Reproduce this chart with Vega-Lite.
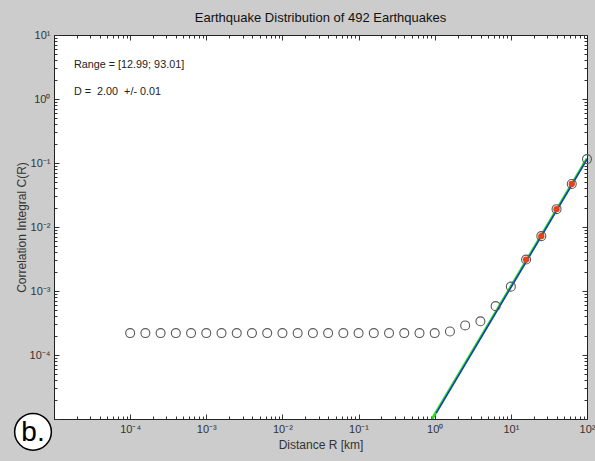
{
  "$schema": "https://vega.github.io/schema/vega-lite/v6.json",
  "width": 533,
  "height": 384,
  "autosize": {"type": "none"},
  "padding": {"left": 54, "top": 35, "right": 8, "bottom": 42},
  "background": "#cccccc",
  "config": {
    "view": {"fill": "white", "stroke": "#222", "strokeWidth": 1},
    "font": "Liberation Sans",
    "axis": {
      "labelFont": "Liberation Sans",
      "labelFontSize": 11,
      "labelColor": "#333",
      "titleFont": "Liberation Sans",
      "titleFontSize": 12,
      "titleFontWeight": "normal",
      "titleColor": "#333",
      "domainColor": "#222",
      "tickColor": "#333",
      "grid": false,
      "labelOverlap": false,
      "labelFlush": false,
      "labelBound": false
    }
  },
  "title": {
    "text": "Earthquake Distribution of 492 Earthquakes",
    "font": "Liberation Sans",
    "fontSize": 13,
    "fontWeight": "normal",
    "color": "#111",
    "offset": 4
  },
  "datasets": {
    "corr": [
      {"r": 0.0001, "c": 0.00022, "fit": false},
      {"r": 0.0001585, "c": 0.00022, "fit": false},
      {"r": 0.0002512, "c": 0.00022, "fit": false},
      {"r": 0.0003981, "c": 0.00022, "fit": false},
      {"r": 0.000631, "c": 0.00022, "fit": false},
      {"r": 0.001, "c": 0.00022, "fit": false},
      {"r": 0.001585, "c": 0.00022, "fit": false},
      {"r": 0.002512, "c": 0.00022, "fit": false},
      {"r": 0.003981, "c": 0.00022, "fit": false},
      {"r": 0.00631, "c": 0.00022, "fit": false},
      {"r": 0.01, "c": 0.00022, "fit": false},
      {"r": 0.01585, "c": 0.00022, "fit": false},
      {"r": 0.02512, "c": 0.00022, "fit": false},
      {"r": 0.03981, "c": 0.00022, "fit": false},
      {"r": 0.0631, "c": 0.00022, "fit": false},
      {"r": 0.1, "c": 0.00022, "fit": false},
      {"r": 0.1585, "c": 0.00022, "fit": false},
      {"r": 0.2512, "c": 0.00022, "fit": false},
      {"r": 0.3981, "c": 0.00022, "fit": false},
      {"r": 0.631, "c": 0.00022, "fit": false},
      {"r": 1.0, "c": 0.00022, "fit": false},
      {"r": 1.585, "c": 0.000233, "fit": false},
      {"r": 2.512, "c": 0.00029, "fit": false},
      {"r": 3.981, "c": 0.000336, "fit": false},
      {"r": 6.31, "c": 0.00058, "fit": false},
      {"r": 10.0, "c": 0.00117, "fit": false},
      {"r": 15.85, "c": 0.0031, "fit": true},
      {"r": 25.12, "c": 0.0072, "fit": true},
      {"r": 39.81, "c": 0.019, "fit": true},
      {"r": 63.1, "c": 0.047, "fit": true},
      {"r": 100.0, "c": 0.115, "fit": false}
    ],
    "green": [
      {"r": 0.9226, "c": 0.00001},
      {"r": 100.0, "c": 0.1175}
    ],
    "blue": [
      {"r": 1.05, "c": 0.0000125},
      {"r": 100.0, "c": 0.1135}
    ],
    "notes": [
      {"label": "Range = [12.99; 93.01]", "row": 1},
      {"label": "D = \u00a02.00 \u00a0+/- 0.01", "row": 2}
    ],
    "panel": [
      {"label": "b."}
    ]
  },
  "layer": [
    {
      "data": {"name": "green"},
      "mark": {"type": "line", "color": "#22dd22", "strokeWidth": 2.6, "clip": true},
      "encoding": {
        "x": {
          "field": "r", "type": "quantitative",
          "scale": {"type": "log", "domain": [0.00001, 100], "nice": false},
          "axis": {
            "orient": "bottom",
            "title": "Distance R [km]",
            "titlePadding": 3,
            "values": [0.00001,0.00002,0.00003,0.00004,0.00005,0.00006,0.00007,0.00008,0.00009,0.0001,0.0002,0.0003,0.0004,0.0005,0.0006,0.0007,0.0008,0.0009,0.001,0.002,0.003,0.004,0.005,0.006,0.007,0.008,0.009,0.01,0.02,0.03,0.04,0.05,0.06,0.07,0.08,0.09,0.1,0.2,0.3,0.4,0.5,0.6,0.7,0.8,0.9,1,2,3,4,5,6,7,8,9,10,20,30,40,50,60,70,80,90,100],
            "labelExpr": "abs(log(datum.value)/LN10 - round(log(datum.value)/LN10)) < 0.001 && round(log(datum.value)/LN10) > -5 ? ['10⁻⁵','10⁻⁴','10⁻³','10⁻²','10⁻¹','10⁰','10¹','10²'][round(log(datum.value)/LN10)+5] : ''",
            "tickSize": {"condition": {"test": "abs(log(datum.value)/LN10 - round(log(datum.value)/LN10)) < 0.001", "value": -5}, "value": -3},
            "labelPadding": 9
          }
        },
        "y": {
          "field": "c", "type": "quantitative",
          "scale": {"type": "log", "domain": [0.00001, 10], "nice": false},
          "axis": {
            "orient": "left",
            "title": "Correlation Integral C(R)",
            "titlePadding": 1,
            "values": [0.00001,0.00002,0.00003,0.00004,0.00005,0.00006,0.00007,0.00008,0.00009,0.0001,0.0002,0.0003,0.0004,0.0005,0.0006,0.0007,0.0008,0.0009,0.001,0.002,0.003,0.004,0.005,0.006,0.007,0.008,0.009,0.01,0.02,0.03,0.04,0.05,0.06,0.07,0.08,0.09,0.1,0.2,0.3,0.4,0.5,0.6,0.7,0.8,0.9,1,2,3,4,5,6,7,8,9,10],
            "labelExpr": "abs(log(datum.value)/LN10 - round(log(datum.value)/LN10)) < 0.001 && round(log(datum.value)/LN10) > -5 ? ['10⁻⁵','10⁻⁴','10⁻³','10⁻²','10⁻¹','10⁰','10¹','10²'][round(log(datum.value)/LN10)+5] : ''",
            "tickSize": {"condition": {"test": "abs(log(datum.value)/LN10 - round(log(datum.value)/LN10)) < 0.001", "value": -5}, "value": -3},
            "labelPadding": 9
          }
        }
      }
    },
    {
      "data": {"name": "blue"},
      "mark": {"type": "line", "color": "#1a2fd0", "strokeWidth": 1.4, "clip": true},
      "encoding": {
        "x": {
          "field": "r", "type": "quantitative",
          "scale": {"type": "log", "domain": [0.00001, 100], "nice": false},
          "axis": {
            "orient": "top",
            "title": null,
            "labels": false,
            "values": [0.00001,0.00002,0.00003,0.00004,0.00005,0.00006,0.00007,0.00008,0.00009,0.0001,0.0002,0.0003,0.0004,0.0005,0.0006,0.0007,0.0008,0.0009,0.001,0.002,0.003,0.004,0.005,0.006,0.007,0.008,0.009,0.01,0.02,0.03,0.04,0.05,0.06,0.07,0.08,0.09,0.1,0.2,0.3,0.4,0.5,0.6,0.7,0.8,0.9,1,2,3,4,5,6,7,8,9,10,20,30,40,50,60,70,80,90,100],
            "tickSize": {"condition": {"test": "abs(log(datum.value)/LN10 - round(log(datum.value)/LN10)) < 0.001", "value": -5}, "value": -3}
          }
        },
        "y": {
          "field": "c", "type": "quantitative",
          "scale": {"type": "log", "domain": [0.00001, 10], "nice": false},
          "axis": {
            "orient": "right",
            "title": null,
            "labels": false,
            "values": [0.00001,0.00002,0.00003,0.00004,0.00005,0.00006,0.00007,0.00008,0.00009,0.0001,0.0002,0.0003,0.0004,0.0005,0.0006,0.0007,0.0008,0.0009,0.001,0.002,0.003,0.004,0.005,0.006,0.007,0.008,0.009,0.01,0.02,0.03,0.04,0.05,0.06,0.07,0.08,0.09,0.1,0.2,0.3,0.4,0.5,0.6,0.7,0.8,0.9,1,2,3,4,5,6,7,8,9,10],
            "tickSize": {"condition": {"test": "abs(log(datum.value)/LN10 - round(log(datum.value)/LN10)) < 0.001", "value": -5}, "value": -3}
          }
        }
      }
    },
    {
      "data": {"name": "corr"},
      "transform": [{"filter": "datum.fit"}],
      "mark": {"type": "point", "shape": "circle", "filled": true, "color": "#e8401c", "size": 40, "opacity": 1},
      "encoding": {
        "x": {"field": "r", "type": "quantitative", "axis": null},
        "y": {"field": "c", "type": "quantitative", "axis": null}
      }
    },
    {
      "data": {"name": "corr"},
      "mark": {"type": "point", "shape": "circle", "filled": false, "stroke": "#5a5a5a", "strokeWidth": 1.1, "size": 80, "opacity": 1},
      "encoding": {
        "x": {"field": "r", "type": "quantitative", "axis": null},
        "y": {"field": "c", "type": "quantitative", "axis": null}
      }
    },
    {
      "data": {"name": "notes"},
      "transform": [{"filter": "datum.row == 1"}],
      "mark": {"type": "text", "align": "left", "baseline": "middle", "fontSize": 10.8, "color": "#222", "font": "Liberation Sans"},
      "encoding": {
        "x": {"datum": 0.0000183, "type": "quantitative", "axis": null},
        "y": {"datum": 3.4, "type": "quantitative", "axis": null},
        "text": {"field": "label"}
      }
    },
    {
      "data": {"name": "notes"},
      "transform": [{"filter": "datum.row == 2"}],
      "mark": {"type": "text", "align": "left", "baseline": "middle", "fontSize": 10.8, "color": "#222", "font": "Liberation Sans"},
      "encoding": {
        "x": {"datum": 0.0000183, "type": "quantitative", "axis": null},
        "y": {"datum": 1.28, "type": "quantitative", "axis": null},
        "text": {"field": "label"}
      }
    },
    {
      "data": {"name": "panel"},
      "mark": {"type": "point", "shape": "circle", "filled": true, "fill": "white", "stroke": "black", "strokeWidth": 1.5, "size": 1350, "opacity": 1, "clip": false},
      "encoding": {
        "x": {"datum": 0.0000053, "type": "quantitative", "axis": null},
        "y": {"datum": 0.0000063, "type": "quantitative", "axis": null}
      }
    },
    {
      "data": {"name": "panel"},
      "mark": {"type": "text", "align": "center", "baseline": "middle", "fontSize": 28, "color": "black", "font": "Liberation Sans", "dy": 1},
      "encoding": {
        "x": {"datum": 0.0000053, "type": "quantitative", "axis": null},
        "y": {"datum": 0.0000063, "type": "quantitative", "axis": null},
        "text": {"field": "label"}
      }
    }
  ],
  "resolve": {"axis": {"x": "independent", "y": "independent"}}
}
